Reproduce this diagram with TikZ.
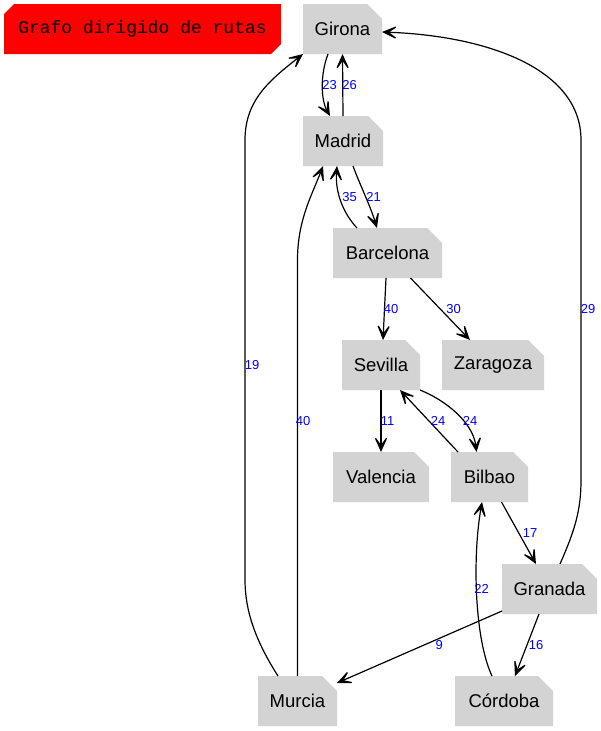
\documentclass[tikz,border=0pt]{standalone}
\usepackage{fontspec}
\setmainfont{Liberation Sans}
\newfontfamily\titlefont{Liberation Mono}
\usetikzlibrary{shapes.misc,arrows.meta,calc}
\definecolor{nodegray}{HTML}{D3D3D3}
\begin{document}
\begin{tikzpicture}[x=1pt,y=-1pt,
  city/.style={chamfered rectangle, chamfered rectangle corners=north east,
    chamfered rectangle xsep=8pt, chamfered rectangle ysep=8pt,
    fill=nodegray, draw=none, inner sep=0pt, outer sep=0pt,
    minimum height=50pt, font=\fontsize{18.5}{20}\selectfont},
  titlebox/.style={chamfered rectangle, chamfered rectangle corners={north west,south east},
    chamfered rectangle xsep=5pt, chamfered rectangle ysep=5pt,
    fill=red, draw=none, inner sep=0pt, outer sep=0pt,
    minimum width=277pt, minimum height=50pt, font=\titlefont\fontsize{18}{20}\selectfont},
  elabel/.style={text=blue, inner sep=0pt, font=\fontsize{13}{15}\selectfont},
  edge/.style={line width=1.2pt, -{Stealth[length=19pt,width=17pt,inset=12pt]}}]
\useasboundingbox (0,0) rectangle (601,731);
\node[titlebox] (title) at (142.5,29) {Grafo dirigido de rutas};
\node[city, minimum width=79pt] (gir) at (342.5,29) {Girona};
\node[city, minimum width=80pt] (mad) at (343,141) {Madrid};
\node[city, minimum width=109pt] (bar) at (387.5,253) {Barcelona};
\node[city, minimum width=78pt] (sev) at (381,365) {Sevilla};
\node[city, minimum width=102pt] (zar) at (493,365) {Zaragoza};
\node[city, minimum width=96pt] (val) at (381,477) {Valencia};
\node[city, minimum width=77pt] (bil) at (489.5,477) {Bilbao};
\node[city, minimum width=95pt] (gra) at (549.5,589) {Granada};
\node[city, minimum width=79pt] (mur) at (297.5,701) {Murcia};
\node[city, minimum width=98pt] (cor) at (504,701) {Córdoba};
% edges
\draw[edge] ([xshift=-14.5pt]gir.south) .. controls (320,75) and (321,100) .. ([xshift=-13pt]mad.north);
\draw[edge] (mad.north) -- (gir.south);
\draw[edge] ([xshift=10pt]mad.south) .. controls (360,185) and (370,205) .. ([xshift=-10.5pt]bar.north);
\draw[edge] ([xshift=-30.5pt]bar.north) .. controls (343,213) and (335,192) .. ([xshift=-6pt]mad.south);
\draw[edge] (mur.north) -- (297.5,260) .. controls (297.5,220) and (312,195) .. ([xshift=-20pt]mad.south);
\draw[edge] ([xshift=-19.5pt]mur.north) .. controls (255,640) and (245,610) .. (245,580) -- (245,140) .. controls (245,100) and (270,80) .. (gir.south west);
\draw[edge] ([xshift=-1.5pt]bar.south) -- ([xshift=2pt]sev.north);
\draw[edge] ([xshift=23pt]bar.south) -- ([xshift=-23pt]zar.north);
\draw[edge] (sev.south) -- (val.north);
\draw[edge] ([xshift=-31.5pt]bil.north) -- ([xshift=19pt]sev.south);
\draw[edge] (sev.south east) .. controls (445,400) and (473,422) .. ([xshift=-13pt]bil.north);
\draw[edge] ([xshift=12pt]bil.south) -- ([xshift=-13.5pt]gra.north);
\draw[edge] ([xshift=10.5pt]gra.north) .. controls (575,530) and (581,510) .. (581,480) -- (581,140) .. controls (581,70) and (490,36) .. ([yshift=-3pt]gir.east);
\draw[edge] ([yshift=-22pt]gra.west) -- ([yshift=18pt]mur.east);
\draw[edge] ([xshift=-10.5pt]gra.south) -- ([xshift=11pt]cor.north);
\draw[edge] ([xshift=-12pt]cor.north) .. controls (475,640) and (472,560) .. ([xshift=-7.5pt]bil.south);
% labels
\node[elabel] (l23) at (329.5,85) {23};
\node[elabel] (l26) at (349.5,85) {26};
\node[elabel] (l21) at (373.5,197) {21};
\node[elabel] (l35) at (349.5,197) {35};
\node[elabel] (l40a) at (391,309) {40};
\node[elabel] (l30) at (453.5,309) {30};
\node[elabel] (l29) at (588,309) {29};
\node[elabel] (l19) at (252,365) {19};
\node[elabel] (l11) at (387.5,421) {11};
\node[elabel] (l24a) at (438,421) {24};
\node[elabel] (l24b) at (470,421) {24};
\node[elabel] (l40b) at (303,421) {40};
\node[elabel] (l17) at (530,533) {17};
\node[elabel] (l22) at (481.7,589) {22};
\node[elabel] (l9) at (439.3,645) {9};
\node[elabel] (l16) at (536,645) {16};
\end{tikzpicture}
\end{document}
